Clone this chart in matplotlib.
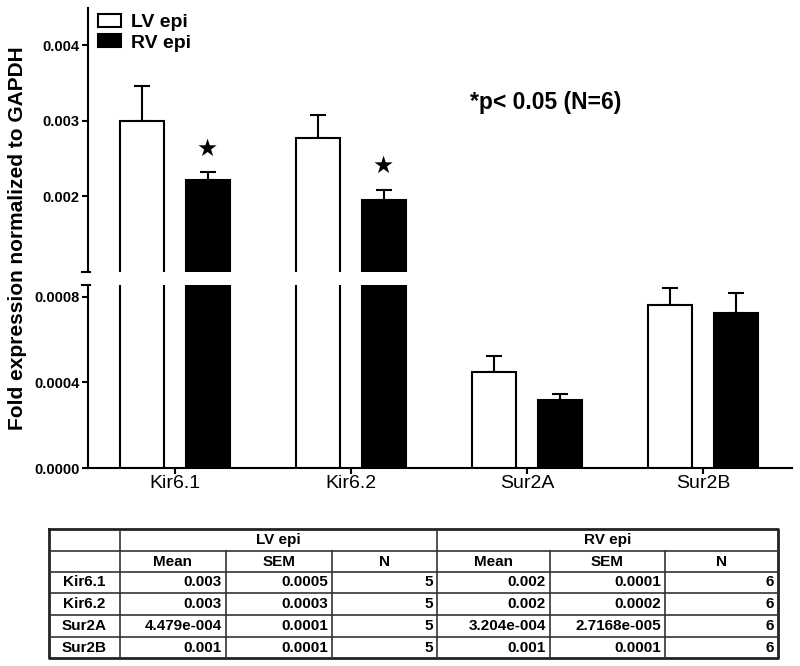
import numpy as np
import matplotlib.pyplot as plt

plt.rcParams['font.family'] = ['Liberation Sans', 'DejaVu Sans']

genes = ['Kir6.1', 'Kir6.2', 'Sur2A', 'Sur2B']
groups = ['LV epi', 'RV epi']
lv_mean = [0.00299, 0.00277, 0.000448, 0.000761]
lv_sem = [0.00047, 0.00031, 0.000075, 0.000083]
rv_mean = [0.00221, 0.00195, 0.000320, 0.000724]
rv_sem = [0.00011, 0.00014, 0.000027, 0.000093]
signif = [True, True, False, False]

# table contents
tbl_lv = [['0.003', '0.0005', '5'],
          ['0.003', '0.0003', '5'],
          ['4.479e-004', '0.0001', '5'],
          ['0.001', '0.0001', '5']]
tbl_rv = [['0.002', '0.0001', '6'],
          ['0.002', '0.0002', '6'],
          ['3.204e-004', '2.7168e-005', '6'],
          ['0.001', '0.0001', '6']]
sub_cols = ['Mean', 'SEM', 'N']

fig = plt.figure(figsize=(8, 6.66), dpi=100)
W, H = 800, 666


def px_axes(x0, y0, x1, y1):
    return fig.add_axes([x0 / W, 1 - y1 / H, (x1 - x0) / W, (y1 - y0) / H])


ax_top = px_axes(88, 8, 792, 272)
ax_bot = px_axes(88, 285, 792, 468)

x = np.arange(len(genes))
off, bw = 0.185, 0.25
for ax in (ax_top, ax_bot):
    ax.bar(x - off, lv_mean, bw, color='white', edgecolor='black', linewidth=1.5,
           label=groups[0], zorder=2)
    ax.bar(x + off, rv_mean, bw, color='black', edgecolor='black', linewidth=1.5,
           label=groups[1], zorder=2)
    ax.errorbar(x - off, lv_mean, yerr=[np.zeros(4), lv_sem], fmt='none',
                ecolor='black', elinewidth=1.5, capsize=5.5, capthick=1.5, zorder=1)
    ax.errorbar(x + off, rv_mean, yerr=[np.zeros(4), rv_sem], fmt='none',
                ecolor='black', elinewidth=1.5, capsize=5.5, capthick=1.5, zorder=1)
    ax.set_xlim(-0.494, 3.506)
    for s in ('top', 'right'):
        ax.spines[s].set_visible(False)
    ax.spines['left'].set_linewidth(1.5)
    ax.spines['bottom'].set_linewidth(1.5)
    ax.tick_params(axis='y', direction='out', length=4, width=1.5, pad=2)

tick_fs = 10.5
ax_top.set_ylim(0.001, 0.00449)
ax_top.set_yticks([0.002, 0.003, 0.004])
ax_top.set_yticklabels(['0.002', '0.003', '0.004'], fontweight='bold', fontsize=tick_fs)
ax_top.spines['bottom'].set_visible(False)
ax_top.set_xticks([])

ax_bot.set_ylim(0, 0.000856)
ax_bot.set_yticks([0, 0.0004, 0.0008])
ax_bot.set_yticklabels(['0.0000', '0.0004', '0.0008'], fontweight='bold', fontsize=tick_fs)
ax_bot.set_xticks(x)
ax_bot.set_xticklabels(genes, fontsize=14)
ax_bot.tick_params(axis='x', direction='out', length=4, width=1.5, pad=1)

# break caps on the y axis
ax_top.plot([-0.008, 0.003], [0, 0], transform=ax_top.transAxes, color='black',
            lw=1.5, clip_on=False)
ax_bot.plot([-0.008, 0.003], [1, 1], transform=ax_bot.transAxes, color='black',
            lw=1.5, clip_on=False)

# significance stars
for i, s in enumerate(signif):
    if s:
        ax_top.annotate('★', xy=(x[i] + off, rv_mean[i] + rv_sem[i]), xytext=(0, 17),
                        textcoords='offset points', ha='center', va='center',
                        fontsize=17, family=['DejaVu Sans'])

fig.text(546 / W, 1 - 103 / H, '*p< 0.05 (N=6)', fontsize=16.5, fontweight='bold',
         ha='center', va='center')

leg = ax_top.legend(loc='upper left', bbox_to_anchor=(0.014, 0.977), frameon=False,
                    fontsize=14, handlelength=1.2, handleheight=0.65, handletextpad=0.5,
                    labelspacing=0.15, borderpad=0, borderaxespad=0)
for t in leg.get_texts():
    t.set_fontweight('bold')

fig.text(18 / W, 1 - 238 / H, 'Fold expression normalized to GAPDH', rotation=90,
         ha='center', va='center', fontsize=15, fontweight='bold')

# table below the chart
tx = fig.add_axes([0, 0, 1, 1])
tx.set_xlim(0, W)
tx.set_ylim(H, 0)
tx.axis('off')
cols = [49, 120, 226, 332, 437, 550, 665, 778]
rows = [529, 551, 572, 593, 615, 637, 658]
tx.plot([cols[0], cols[-1], cols[-1], cols[0], cols[0]],
        [rows[0], rows[0], rows[-1], rows[-1], rows[0]], color='#222222', lw=2)
for r in rows[1:-1]:
    tx.plot([cols[0], cols[-1]], [r, r], color='#333333', lw=1.2)
for c in cols[1:-1]:
    y0 = rows[0] if c in (cols[1], cols[4]) else rows[1]
    tx.plot([c, c], [y0, rows[-1]], color='#333333', lw=1.2)
fs = 11
for g, c0, c1 in ((groups[0], cols[1], cols[4]), (groups[1], cols[4], cols[7])):
    tx.text((c0 + c1) / 2, (rows[0] + rows[1]) / 2, g, ha='center', va='center',
            fontsize=fs, fontweight='bold')
for k, name in enumerate(sub_cols * 2):
    tx.text((cols[k + 1] + cols[k + 2]) / 2, (rows[1] + rows[2]) / 2, name,
            ha='center', va='center', fontsize=fs, fontweight='bold')
for r, gname in enumerate(genes):
    yc = (rows[r + 2] + rows[r + 3]) / 2
    tx.text((cols[0] + cols[1]) / 2, yc, gname, ha='center', va='center',
            fontsize=fs, fontweight='bold')
    vals = tbl_lv[r] + tbl_rv[r]
    for k, v in enumerate(vals):
        tx.text(cols[k + 2] - 4, yc, v, ha='right', va='center', fontsize=fs,
                fontweight='bold')

fig.savefig('out.png', dpi=100)
